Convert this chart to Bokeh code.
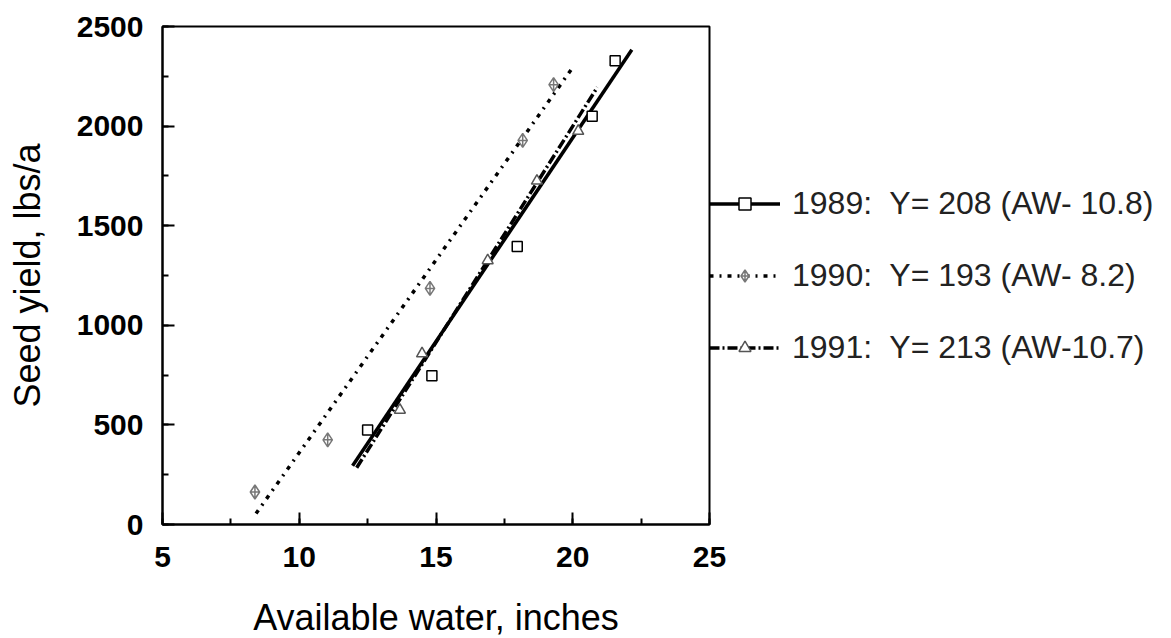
from bokeh.plotting import figure
from bokeh.models import SingleIntervalTicker, Legend, LegendItem
from bokeh.embed import file_html
from bokeh.resources import INLINE

# Observed points
x89 = [12.5, 14.85, 17.97, 20.71, 21.55]
y89 = [475, 747, 1396, 2050, 2328]
x90 = [8.38, 11.04, 14.78, 18.17, 19.3]
y90 = [163, 425, 1185, 1928, 2208]
x91 = [13.68, 14.49, 16.89, 18.69, 20.2]
y91 = [575, 858, 1325, 1725, 1975]

# Fitted line endpoints
lx89 = [11.95, 22.16]
ly89 = [295, 2383]
lx90 = [8.42, 19.96]
ly90 = [55, 2287]
lx91 = [12.1, 20.9]
ly91 = [285, 2195]

labels = ["1989:  Y= 208 (AW- 10.8)", "1990:  Y= 193 (AW- 8.2)", "1991:  Y= 213 (AW-10.7)"]

p = figure(frame_width=547, frame_height=498, x_range=(5, 25), y_range=(0, 2500),
           output_backend="svg", toolbar_location=None,
           min_border_left=162, min_border_top=26, min_border_bottom=112, min_border_right=0)
p.grid.visible = False
p.outline_line_color = "black"
p.outline_line_width = 2
p.background_fill_color = "white"
p.border_fill_color = "white"

p.xaxis.ticker = SingleIntervalTicker(interval=5, num_minor_ticks=2)
p.yaxis.ticker = SingleIntervalTicker(interval=500, num_minor_ticks=2)
for ax in (p.xaxis[0], p.yaxis[0]):
    ax.axis_line_color = "black"
    ax.axis_line_width = 2
    ax.major_tick_in = 12
    ax.major_tick_out = 0
    ax.minor_tick_in = 6
    ax.minor_tick_out = 0
    ax.major_tick_line_width = 2
    ax.minor_tick_line_width = 2
    ax.major_label_text_font = "Liberation Sans"
    ax.major_label_text_font_style = "bold"
    ax.major_label_text_font_size = "30px"
    ax.major_label_text_color = "black"
    ax.axis_label_text_font = "Liberation Sans"
    ax.axis_label_text_font_style = "normal"
    ax.axis_label_text_font_size = "36px"
    ax.axis_label_text_color = "black"
p.xaxis.axis_label = "Available water, inches"
p.yaxis.axis_label = "Seed yield, lbs/a"
p.xaxis.major_label_standoff = 22
p.yaxis.major_label_standoff = 19
p.xaxis.axis_label_standoff = 27
p.yaxis.axis_label_standoff = 26

l89 = p.line(lx89, ly89, line_color="black", line_width=3.5)
l91 = p.line(lx91, ly91, line_color="black", line_width=3.5, line_dash="10 3 2 3")
l90 = p.line(lx90, ly90, line_color="black", line_width=3.5, line_dash="4 6 2 6")

s89 = p.scatter(x89, y89, marker="square", size=10, line_color="black", fill_color="white", line_width=1.5)
s90 = p.scatter(x90, y90, marker="diamond_cross", size=14, line_color="#777777", fill_color="white", line_width=1.5)
s91 = p.scatter(x91, y91, marker="triangle", size=11, line_color="#555555", fill_color="white", line_width=1.5)

legend = Legend(items=[
    LegendItem(label=labels[0], renderers=[l89, s89]),
    LegendItem(label=labels[1], renderers=[l90, s90]),
    LegendItem(label=labels[2], renderers=[l91, s91]),
], location="left", orientation="vertical")
legend.border_line_color = None
legend.background_fill_alpha = 0
legend.margin = 0
legend.padding = 5
legend.glyph_width = 71
legend.glyph_height = 30
legend.label_height = 30
legend.label_standoff = 12
legend.spacing = 35
legend.label_text_font = "Liberation Sans"
legend.label_text_font_size = "32px"
legend.label_text_color = "#222222"
p.add_layout(legend, "right")

open("out.html", "w").write(file_html(p, INLINE))
